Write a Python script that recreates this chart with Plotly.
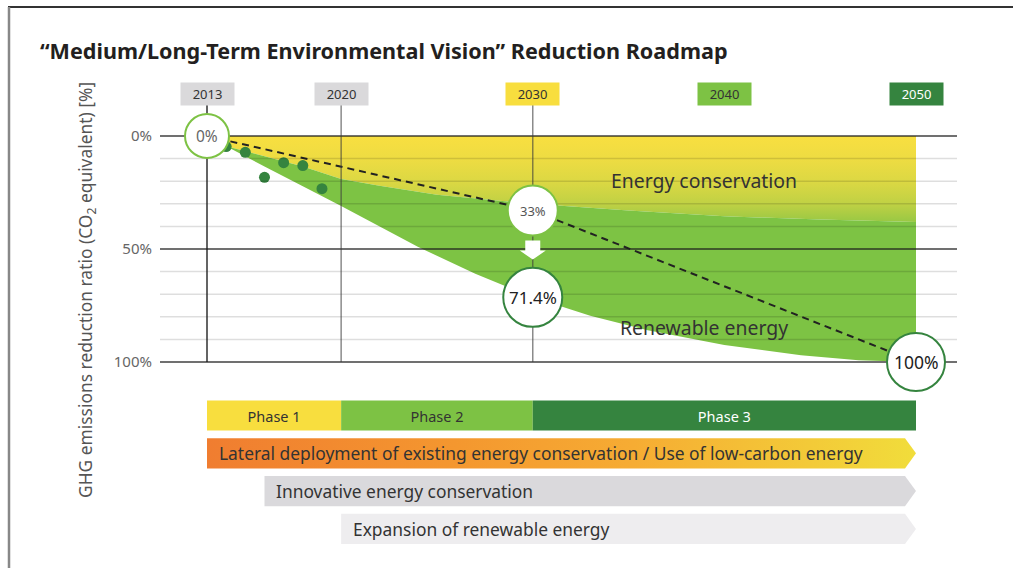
import plotly.graph_objects as go

W, H = 1013, 568
FONT = "Noto Sans"

# ---- data -------------------------------------------------------------
year_marks = [2013, 2020, 2030, 2040, 2050]
year_mark_labels = ["2013", "2020", "2030", "2040", "2050"]
year_mark_colors = ["#DAD9DB", "#DAD9DB", "#F8DE3E", "#7DC244", "#35843F"]
year_mark_text_colors = ["#333333", "#333333", "#333333", "#333333", "#FFFFFF"]
guide_years = [2013, 2020, 2030]

actual_years = [2014, 2015, 2016, 2017, 2018, 2019]
actual_values = [4.7, 7.2, 18.3, 11.8, 13.1, 23.3]

target_years = [2013, 2030, 2050]
target_values = [0, 33, 100]

conservation_years = [2013, 2014, 2016, 2018, 2020, 2022, 2025, 2030, 2035, 2040, 2045, 2050]
conservation_values = [0, 4.5, 9, 13.5, 19, 22, 26, 30, 33, 35.5, 37, 38]

renewable_years = [2013, 2016, 2020, 2024, 2027, 2030, 2033, 2036, 2040, 2044, 2047, 2050]
renewable_values = [0, 13.5, 31, 49, 61, 71.4, 79.5, 86, 92.5, 97, 99.2, 100]

milestone_years = [2013, 2030, 2030, 2050]
milestone_values = [0, 33, 71.4, 100]
milestone_labels = ["0%", "33%", "71.4%", "100%"]

y_ticks = [0, 50, 100]
y_tick_labels = ["0%", "50%", "100%"]
minor_grid = [10, 20, 30, 40, 60, 70, 80, 90]

phase_names = ["Phase 1", "Phase 2", "Phase 3"]
phase_starts = [2013, 2020, 2030]
phase_ends = [2020, 2030, 2050]
phase_colors = ["#F8DE3E", "#7DC244", "#35843F"]
phase_text_colors = ["#333333", "#333333", "#FFFFFF"]

initiative_names = [
    "Lateral deployment of existing energy conservation / Use of low-carbon energy",
    "Innovative energy conservation",
    "Expansion of renewable energy",
]
initiative_starts = [2013, 2016, 2020]
initiative_end = 2050
initiative_colors = [None, "#DAD9DC", "#EEEDEF"]

# ---- geometry helpers ---------------------------------------------------
X_2013, X_2050 = 207, 916          # pixel columns of first / last year
PX_PER_YEAR = (X_2050 - X_2013) / (2050 - 2013)
X_LEFT, X_RIGHT = 160, 957         # plot area extent in pixels
x_lo = 2013 - (X_2013 - X_LEFT) / PX_PER_YEAR
x_hi = 2013 + (X_RIGHT - X_2013) / PX_PER_YEAR

Y_0, Y_100 = 136, 362              # pixel rows of 0 % and 100 %
PX_PER_PCT = (Y_100 - Y_0) / 100
Y_LO, Y_HI = -12, 115              # axis range, leaves room for the milestone rings
y_top_px = Y_0 + Y_LO * PX_PER_PCT
y_bot_px = Y_0 + Y_HI * PX_PER_PCT


def py(p):
    return (H - p) / H


def px(p):
    return p / W


fig = go.Figure()

# stacked reduction areas
fig.add_trace(go.Scatter(x=[2013, 2050], y=[0, 0], mode="lines",
                         line=dict(width=0), hoverinfo="skip"))
fig.add_trace(go.Scatter(
    x=conservation_years, y=conservation_values, mode="lines",
    line=dict(width=0), fill="tonexty",
    fillgradient=dict(type="vertical", start=0, stop=40, colorscale=[
        [0, "#F8DF40"], [0.25, "#EEDC42"], [0.5, "#DCD843"],
        [0.75, "#C0D144"], [1, "#8FC644"]]),
    hoverinfo="skip"))
fig.add_trace(go.Scatter(
    x=renewable_years, y=renewable_values, mode="lines",
    line=dict(width=0), fill="tonexty", fillcolor="#7DC344",
    hoverinfo="skip"))

# original target path
fig.add_trace(go.Scatter(x=target_years, y=target_values, mode="lines",
                         line=dict(color="#222222", width=2, dash="7px,5px")))

# actual results
fig.add_trace(go.Scatter(x=actual_years, y=actual_values, mode="markers",
                         marker=dict(size=11, color="#35843F"), cliponaxis=False))

# phase band
fig.add_trace(go.Bar(
    y=[0] * len(phase_names),
    x=[e - s for s, e in zip(phase_starts, phase_ends)],
    base=phase_starts, orientation="h", yaxis="y2", width=0.8,
    marker=dict(color=phase_colors, line=dict(width=0)),
    text=phase_names, textposition="inside", insidetextanchor="middle",
    textangle=0, textfont=dict(size=14.5, color=phase_text_colors, family=FONT),
    hoverinfo="skip"))

# initiative arrows
tip = 11 / PX_PER_YEAR
for i, (name, start) in enumerate(zip(initiative_names, initiative_starts)):
    row = i + 1
    tb = initiative_end - tip
    xs = [start, tb, initiative_end, tb, start, start]
    ys = [row - 0.4, row - 0.4, row, row + 0.4, row + 0.4, row - 0.4]
    kw = dict(x=xs, y=ys, mode="lines", line=dict(width=0), fill="toself",
              yaxis="y2", hoverinfo="skip")
    if initiative_colors[i] is None:
        kw["fillgradient"] = dict(type="horizontal", start=start, stop=initiative_end,
                                  colorscale=[[0, "#F07D30"], [0.35, "#F4972F"],
                                              [0.6, "#F6AC33"], [0.85, "#F3CA38"],
                                              [1, "#F1DD3B"]])
    else:
        kw["fillcolor"] = initiative_colors[i]
    fig.add_trace(go.Scatter(**kw))

shapes = []
# horizontal grid
for g in minor_grid:
    shapes.append(dict(type="line", xref="paper", yref="y", x0=px(X_LEFT), x1=px(X_RIGHT),
                       y0=g, y1=g, line=dict(color="rgba(0,0,0,0.13)", width=1.5),
                       layer="above"))
for g in y_ticks:
    shapes.append(dict(type="line", xref="paper", yref="y", x0=px(X_LEFT), x1=px(X_RIGHT),
                       y0=g, y1=g, line=dict(color="rgba(30,30,30,0.85)", width=1.5),
                       layer="above"))
# year guide lines
for yr in guide_years:
    col = "rgba(25,25,25,0.9)" if yr == 2013 else "rgba(60,60,60,0.6)"
    shapes.append(dict(type="line", xref="x", yref="paper", x0=yr, x1=yr,
                       y0=py(105), y1=py(Y_100), line=dict(color=col, width=1.5),
                       layer="above"))
# arrow from original to revised 2030 target
shapes.append(dict(type="path", xref="x", yref="y", xsizemode="pixel", ysizemode="pixel",
                   xanchor=2030, yanchor=33,
                   path="M -7.5,-30 L 7.5,-30 L 7.5,-40 L 13,-40 L 0,-49 L -13,-40 L -7.5,-40 Z",
                   fillcolor="#FFFFFF", line=dict(width=0), layer="above"))
# milestone circles
radii = [22, 25, 29.5, 29]
ring_colors = ["#7DC244", "#7DC244", "#35843F", "#35843F"]
for yr, v, r, c in zip(milestone_years, milestone_values, radii, ring_colors):
    shapes.append(dict(type="circle", xref="x", yref="y", xsizemode="pixel", ysizemode="pixel",
                       xanchor=yr, yanchor=v, x0=-r, x1=r, y0=-r, y1=r,
                       fillcolor="#FFFFFF", line=dict(color=c, width=2), layer="above"))
# frame
shapes.append(dict(type="line", xref="paper", yref="paper", x0=px(8), x1=1, y0=py(7), y1=py(7),
                   line=dict(color="#333333", width=2)))
shapes.append(dict(type="line", xref="paper", yref="paper", x0=px(9), x1=px(9), y0=py(7), y1=0,
                   line=dict(color="#888888", width=2.5)))

annotations = []
label_sizes = [15.5, 13, 17, 17.5]
label_colors = ["#666666", "#555555", "#222222", "#222222"]
for yr, v, t, s, c in zip(milestone_years, milestone_values, milestone_labels, label_sizes, label_colors):
    annotations.append(dict(x=yr, y=v, xref="x", yref="y", text=t, showarrow=False,
                            xanchor="center", yanchor="middle",
                            font=dict(size=s, color=c, family=FONT)))
for yr, t, bg, fc in zip(year_marks, year_mark_labels, year_mark_colors, year_mark_text_colors):
    annotations.append(dict(x=yr, y=py(94), xref="x", yref="paper", text=t, showarrow=False,
                            xanchor="center", yanchor="middle",
                            bgcolor=bg, width=53, height=22, borderpad=0,
                            font=dict(size=13, color=fc, family=FONT)))
for i, (name, start) in enumerate(zip(initiative_names, initiative_starts)):
    annotations.append(dict(x=start, y=i + 1, xref="x", yref="y2", text=name, showarrow=False,
                            xanchor="left", yanchor="middle", xshift=10,
                            font=dict(size=17.4, color="#333333", family=FONT)))
annotations += [
    dict(x=px(704), y=py(180), xref="paper", yref="paper", text="Energy conservation",
         xanchor="center", yanchor="middle",
         showarrow=False, font=dict(size=19.4, color="#333333", family=FONT)),
    dict(x=px(704), y=py(327), xref="paper", yref="paper", text="Renewable energy",
         xanchor="center", yanchor="middle",
         showarrow=False, font=dict(size=19.4, color="#333333", family=FONT)),
    dict(x=px(38), y=py(50), xref="paper", yref="paper", xanchor="left", yanchor="middle",
         text="“Medium/Long-Term Environmental Vision” Reduction Roadmap",
         showarrow=False, font=dict(size=21.6, color="#231F20", family=FONT, weight=700)),
    dict(x=px(86), y=py(290), xref="paper", yref="paper", textangle=-90,
         xanchor="center", yanchor="middle",
         text="GHG emissions reduction ratio (CO<sub>2</sub> equivalent) [%]",
         showarrow=False, font=dict(size=17.4, color="#555555", family=FONT)),
]

fig.update_layout(
    width=W, height=H, margin=dict(l=0, r=0, t=0, b=0, pad=0, autoexpand=False),
    paper_bgcolor="#FFFFFF", plot_bgcolor="rgba(0,0,0,0)",
    showlegend=False, hovermode=False,
    font=dict(family=FONT),
    xaxis=dict(domain=[px(X_LEFT), px(X_RIGHT)], range=[x_lo, x_hi], visible=False),
    yaxis=dict(domain=[py(y_bot_px), py(y_top_px)], range=[Y_HI, Y_LO], showgrid=False,
               zeroline=False, automargin=False,
               tickvals=y_ticks, ticktext=y_tick_labels, ticks="outside", ticklen=4,
               tickcolor="rgba(0,0,0,0)", tickfont=dict(size=15, color="#666666", family=FONT)),
    yaxis2=dict(domain=[py(547.8), py(396.6)], range=[3.5, -0.5], visible=False, anchor="x"),
    shapes=shapes, annotations=annotations,
)

fig.write_html("out.html")
